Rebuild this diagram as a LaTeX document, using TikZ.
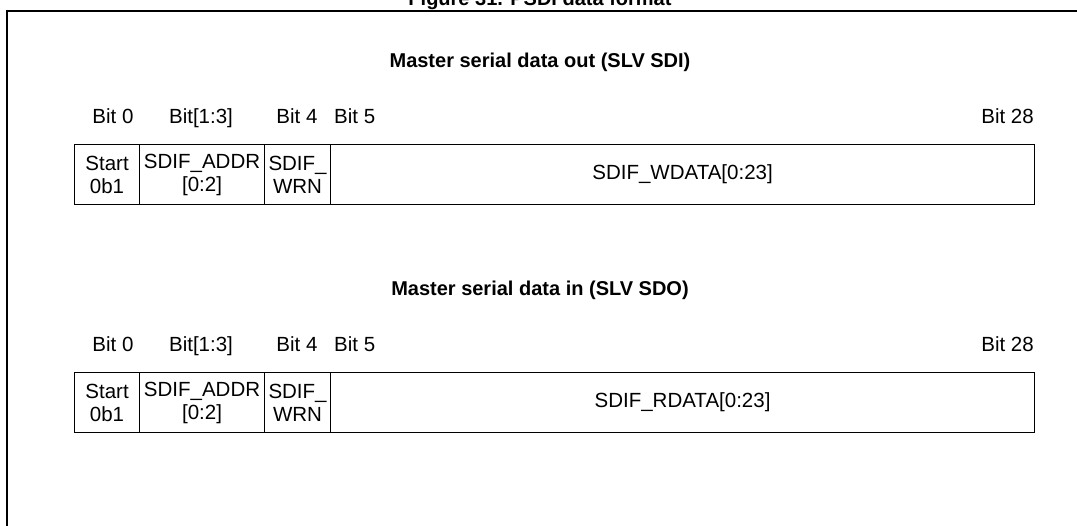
\documentclass[tikz,border=0pt]{standalone}
\usepackage{fontspec}
\setmainfont{Liberation Sans}
\begin{document}
\begin{tikzpicture}[x=1pt,y=-1pt,
  lbl/.style={font=\fontsize{20.5}{23}\selectfont,inner sep=0pt},
  cell/.style={draw,line width=1.1pt,font=\fontsize{20.5}{23}\selectfont,align=center,inner sep=0pt,anchor=north west},
  ttl/.style={font=\bfseries\fontsize{20}{23}\selectfont,inner sep=0pt}]
\useasboundingbox (0,0) rectangle (1077,526);
\clip (0,0) rectangle (1077,526);
\node[ttl,anchor=base] (fig) at (540,6) {Figure 31. PSDI data format};
\draw[line width=1.5pt] (7,526) -- (7,11) -- (1077,11);
\foreach \r/\y/\t/\d in {a/0/Master serial data out (SLV SDI)/SDIF\_WDATA[0:23],b/228/Master serial data in (SLV SDO)/SDIF\_RDATA[0:23]}{
  \node[ttl] (t\r) at (540,62+\y) {\t};
  \node[lbl,anchor=base] (b0\r) at (113,124+\y) {Bit 0};
  \node[lbl,anchor=base] (b1\r) at (201,124+\y) {Bit[1:3]};
  \node[lbl,anchor=base] (b4\r) at (297,124+\y) {Bit 4};
  \node[lbl,anchor=base west] (b5\r) at (334,124+\y) {Bit 5};
  \node[lbl,anchor=base east] (b28\r) at (1034,124+\y) {Bit 28};
  \node[cell,minimum width=65,minimum height=60] (c0\r) at (74,144+\y) {Start\\0b1};
  \node[cell,minimum width=125,minimum height=60] (c1\r) at (139,144+\y) {SDIF\_ADDR\\{[0:2]}};
  \node[cell,minimum width=66,minimum height=60] (c4\r) at (264,144+\y) {SDIF\_\\WRN};
  \node[cell,minimum width=704,minimum height=60] (c5\r) at (330,144+\y) {\d};
}
\end{tikzpicture}
\end{document}
